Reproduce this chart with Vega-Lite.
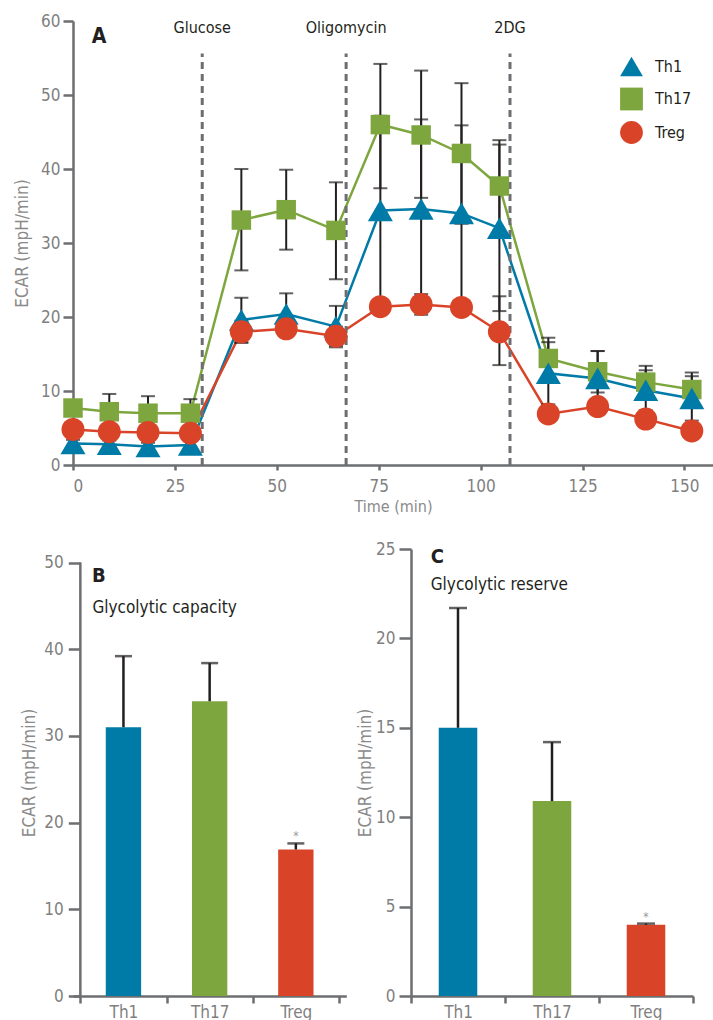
{
  "$schema": "https://vega.github.io/schema/vega-lite/v6.json",
  "padding": {"left": 13, "top": 12, "right": 0, "bottom": 0},
  "spacing": 26,
  "columns": 1,
  "resolve": {"legend": {"color": "independent", "shape": "independent"}},
  "config": {
    "font": "DejaVu Sans Condensed, DejaVu Sans, sans-serif",
    "view": {"stroke": null},
    "axis": {
      "labelFontSize": 17, "labelColor": "#7f7f7f",
      "titleFontSize": 17, "titleColor": "#8a8a8a", "titleFontWeight": "normal",
      "domainColor": "#6d6e71", "domainWidth": 2.5,
      "tickColor": "#6d6e71", "tickWidth": 2.5, "grid": false
    },
    "text": {"color": "#231F20"}
  },
  "datasets": {
    "ts": [
      {"cell": "Th17", "t": 0, "v": 7.7, "lo": 6.7, "hi": 8.7},
      {"cell": "Th17", "t": 8.9, "v": 7.2, "lo": 4.8, "hi": 9.6},
      {"cell": "Th17", "t": 18.4, "v": 7.0, "lo": 4.7, "hi": 9.3},
      {"cell": "Th17", "t": 28.8, "v": 7.0, "lo": 5.1, "hi": 8.9},
      {"cell": "Th17", "t": 41.3, "v": 33.1, "lo": 26.3, "hi": 40.0},
      {"cell": "Th17", "t": 52.3, "v": 34.5, "lo": 29.1, "hi": 39.9},
      {"cell": "Th17", "t": 64.5, "v": 31.7, "lo": 25.1, "hi": 38.2},
      {"cell": "Th17", "t": 75.4, "v": 46.0, "lo": 37.4, "hi": 54.2},
      {"cell": "Th17", "t": 85.4, "v": 44.6, "lo": 36.1, "hi": 53.3},
      {"cell": "Th17", "t": 95.3, "v": 42.1, "lo": 32.6, "hi": 51.6},
      {"cell": "Th17", "t": 104.6, "v": 37.7, "lo": 31.5, "hi": 43.9},
      {"cell": "Th17", "t": 116.6, "v": 14.4, "lo": 11.6, "hi": 17.2},
      {"cell": "Th17", "t": 128.7, "v": 12.6, "lo": 9.8, "hi": 15.4},
      {"cell": "Th17", "t": 140.5, "v": 11.2, "lo": 9.0, "hi": 13.4},
      {"cell": "Th17", "t": 151.8, "v": 10.2, "lo": 7.9, "hi": 12.5},
      {"cell": "Th1", "t": 0, "v": 2.9, "lo": 2.4, "hi": 3.4},
      {"cell": "Th1", "t": 8.9, "v": 2.8, "lo": 2.3, "hi": 3.3},
      {"cell": "Th1", "t": 18.4, "v": 2.5, "lo": 2.0, "hi": 3.0},
      {"cell": "Th1", "t": 28.8, "v": 2.7, "lo": 2.2, "hi": 3.2},
      {"cell": "Th1", "t": 41.3, "v": 19.6, "lo": 16.6, "hi": 22.6},
      {"cell": "Th1", "t": 52.3, "v": 20.4, "lo": 17.6, "hi": 23.2},
      {"cell": "Th1", "t": 64.5, "v": 18.7, "lo": 15.9, "hi": 21.5},
      {"cell": "Th1", "t": 75.4, "v": 34.4, "lo": 21.6, "hi": 47.2},
      {"cell": "Th1", "t": 85.4, "v": 34.6, "lo": 22.5, "hi": 46.7},
      {"cell": "Th1", "t": 95.3, "v": 34.0, "lo": 22.1, "hi": 45.9},
      {"cell": "Th1", "t": 104.6, "v": 32.0, "lo": 20.8, "hi": 43.3},
      {"cell": "Th1", "t": 116.6, "v": 12.4, "lo": 8.2, "hi": 16.6},
      {"cell": "Th1", "t": 128.7, "v": 11.7, "lo": 8.0, "hi": 15.4},
      {"cell": "Th1", "t": 140.5, "v": 10.1, "lo": 7.4, "hi": 12.8},
      {"cell": "Th1", "t": 151.8, "v": 9.0, "lo": 6.0, "hi": 12.0},
      {"cell": "Treg", "t": 0, "v": 4.8, "lo": 4.3, "hi": 5.3},
      {"cell": "Treg", "t": 8.9, "v": 4.5, "lo": 4.0, "hi": 5.0},
      {"cell": "Treg", "t": 18.4, "v": 4.4, "lo": 3.9, "hi": 4.9},
      {"cell": "Treg", "t": 28.8, "v": 4.3, "lo": 3.8, "hi": 4.8},
      {"cell": "Treg", "t": 41.3, "v": 18.0, "lo": 16.5, "hi": 19.5},
      {"cell": "Treg", "t": 52.3, "v": 18.4, "lo": 17.4, "hi": 19.4},
      {"cell": "Treg", "t": 64.5, "v": 17.4, "lo": 16.1, "hi": 18.7},
      {"cell": "Treg", "t": 75.4, "v": 21.4, "lo": 20.4, "hi": 22.4},
      {"cell": "Treg", "t": 85.4, "v": 21.7, "lo": 20.3, "hi": 23.1},
      {"cell": "Treg", "t": 95.3, "v": 21.3, "lo": 20.3, "hi": 22.3},
      {"cell": "Treg", "t": 104.6, "v": 18.0, "lo": 13.5, "hi": 22.8},
      {"cell": "Treg", "t": 116.6, "v": 6.9, "lo": 6.1, "hi": 7.7},
      {"cell": "Treg", "t": 128.7, "v": 7.9, "lo": 7.1, "hi": 8.7},
      {"cell": "Treg", "t": 140.5, "v": 6.2, "lo": 5.5, "hi": 6.9},
      {"cell": "Treg", "t": 151.8, "v": 4.6, "lo": 3.9, "hi": 5.3}
    ],
    "events": [
      {"label": "Glucose", "t": 31.7},
      {"label": "Oligomycin", "t": 67.0},
      {"label": "2DG", "t": 107.2}
    ],
    "cap": [
      {"cell": "Th1", "v": 31.0, "hi": 39.2, "sig": ""},
      {"cell": "Th17", "v": 34.0, "hi": 38.4, "sig": ""},
      {"cell": "Treg", "v": 16.9, "hi": 17.6, "sig": "*"}
    ],
    "res": [
      {"cell": "Th1", "v": 15.0, "hi": 21.7, "sig": ""},
      {"cell": "Th17", "v": 10.9, "hi": 14.2, "sig": ""},
      {"cell": "Treg", "v": 3.98, "hi": 4.05, "sig": "*"}
    ]
  },
  "concat": [
    {
      "width": 640,
      "height": 444,
      "layer": [
        {
          "data": {"name": "ts"},
          "mark": {"type": "line", "strokeWidth": 2.5},
          "encoding": {
            "x": {"field": "t", "type": "quantitative", "scale": {"domain": [0, 157], "nice": false, "zero": false},
                  "axis": {"values": [0, 25, 50, 75, 100, 125, 150], "title": "Time (min)", "titleFontSize": 16, "tickSize": 5, "labelPadding": 8, "titlePadding": 4}},
            "y": {"field": "v", "type": "quantitative", "scale": {"domain": [0, 60], "nice": false},
                  "axis": {"values": [0, 10, 20, 30, 40, 50, 60], "title": "ECAR (mpH/min)", "tickSize": 10, "labelPadding": 3, "titlePadding": 9}},
            "stroke": {"field": "cell", "type": "nominal", "scale": {"domain": ["Th1", "Th17", "Treg"], "range": ["#007ba7", "#7ea63f", "#d94428"]}, "legend": null}
          }
        },
        {
          "data": {"name": "events"},
          "mark": {"type": "rule", "strokeDash": [7, 5], "strokeWidth": 3, "color": "#6d6e71"},
          "encoding": {
            "x": {"field": "t", "type": "quantitative", "scale": {"domain": [0, 157], "nice": false, "zero": false}},
            "y": {"datum": 0, "scale": {"domain": [0, 60], "nice": false}},
            "y2": {"datum": 55.6}
          }
        },
        {
          "data": {"name": "events"},
          "mark": {"type": "text", "fontSize": 16, "baseline": "middle", "align": "center"},
          "encoding": {
            "x": {"field": "t", "type": "quantitative", "scale": {"domain": [0, 157], "nice": false, "zero": false}},
            "y": {"datum": 59, "scale": {"domain": [0, 60], "nice": false}},
            "text": {"field": "label"}
          }
        },
        {
          "data": {"name": "ts"},
          "mark": {"type": "errorbar", "ticks": {"size": 14}, "thickness": 2, "color": "#231F20"},
          "encoding": {
            "x": {"field": "t", "type": "quantitative", "scale": {"domain": [0, 157], "nice": false, "zero": false}},
            "y": {"field": "lo", "type": "quantitative", "scale": {"domain": [0, 60], "nice": false}, "title": "ECAR (mpH/min)"},
            "y2": {"field": "hi"}
          }
        },
        {
          "data": {"name": "ts"},
          "transform": [{"filter": "datum.cell === 'Th17'"}],
          "mark": {"type": "point", "filled": true, "opacity": 1, "size": 380},
          "encoding": {
            "x": {"field": "t", "type": "quantitative", "scale": {"domain": [0, 157], "nice": false, "zero": false}},
            "y": {"field": "v", "type": "quantitative", "scale": {"domain": [0, 60], "nice": false}},
            "color": {"field": "cell", "type": "nominal", "scale": {"domain": ["Th1", "Th17", "Treg"], "range": ["#007ba7", "#7ea63f", "#d94428"]},
                      "legend": {"title": null, "orient": "none", "legendX": 547, "legendY": 34, "labelFontSize": 16, "labelColor": "#231F20", "labelOffset": 12, "rowPadding": 10.5, "padding": 0, "symbolOpacity": 1, "symbolSize": 520, "symbolStrokeWidth": 0}},
            "shape": {"field": "cell", "type": "nominal", "scale": {"domain": ["Th1", "Th17", "Treg"], "range": ["triangle-up", "square", "circle"]}}
          }
        },
        {
          "data": {"name": "ts"},
          "transform": [{"filter": "datum.cell === 'Th1'"}],
          "mark": {"type": "point", "filled": true, "opacity": 1, "size": 625},
          "encoding": {
            "x": {"field": "t", "type": "quantitative", "scale": {"domain": [0, 157], "nice": false, "zero": false}},
            "y": {"field": "v", "type": "quantitative", "scale": {"domain": [0, 60], "nice": false}},
            "color": {"field": "cell", "type": "nominal"},
            "shape": {"field": "cell", "type": "nominal"}
          }
        },
        {
          "data": {"name": "ts"},
          "transform": [{"filter": "datum.cell === 'Treg'"}],
          "mark": {"type": "point", "filled": true, "opacity": 1, "size": 529},
          "encoding": {
            "x": {"field": "t", "type": "quantitative", "scale": {"domain": [0, 157], "nice": false, "zero": false}},
            "y": {"field": "v", "type": "quantitative", "scale": {"domain": [0, 60], "nice": false}},
            "color": {"field": "cell", "type": "nominal"},
            "shape": {"field": "cell", "type": "nominal"}
          }
        },
        {
          "data": {"values": [{}]},
          "mark": {"type": "text", "fontSize": 21, "fontWeight": "bold", "align": "left", "baseline": "middle"},
          "encoding": {
            "x": {"datum": 4.6, "scale": {"domain": [0, 157], "nice": false, "zero": false}},
            "y": {"datum": 57.8, "scale": {"domain": [0, 60], "nice": false}},
            "text": {"value": "A"}
          }
        }
      ]
    },
    {
      "spacing": 9,
      "hconcat": [
        {
          "width": 273.3,
          "height": 447,
          "encoding": {
            "x": {"field": "cell", "type": "nominal", "scale": {"domain": ["Th1", "Th17", "Treg"], "paddingInner": 0, "paddingOuter": 0.0853},
                  "axis": {"title": null, "labelAngle": 0, "tickBand": "extent", "tickSize": 7, "labelPadding": 1}}
          },
          "layer": [
            {
              "data": {"name": "cap"},
              "mark": {"type": "bar", "width": {"band": 0.41}},
              "encoding": {
                "y": {"field": "v", "type": "quantitative", "scale": {"domain": [0, 51.56], "nice": false},
                      "axis": {"values": [0, 10, 20, 30, 40, 50], "title": "ECAR (mpH/min)", "domain": false, "offset": -7.3, "tickSize": 12, "labelPadding": 5, "titlePadding": 5}},
                "fill": {"field": "cell", "type": "nominal", "scale": {"domain": ["Th1", "Th17", "Treg"], "range": ["#007ba7", "#7ea63f", "#d94428"]}, "legend": null}
              }
            },
            {
              "data": {"name": "cap"},
              "mark": {"type": "rule", "strokeWidth": 2.5, "color": "#231F20"},
              "encoding": {"y": {"field": "v", "type": "quantitative"}, "y2": {"field": "hi"}}
            },
            {
              "data": {"name": "cap"},
              "mark": {"type": "tick", "orient": "horizontal", "size": 17, "thickness": 2.5, "color": "#231F20"},
              "encoding": {"y": {"field": "hi", "type": "quantitative"}}
            },
            {
              "data": {"name": "cap"},
              "mark": {"type": "text", "fontSize": 12, "color": "#9a9a9a", "baseline": "bottom"},
              "encoding": {"y": {"field": "hi", "type": "quantitative"}, "text": {"field": "sig"}}
            },
            {
              "data": {"values": [{}]},
              "mark": {"type": "rule", "strokeWidth": 2.5, "color": "#6d6e71"},
              "encoding": {"x": {"datum": "Th1", "bandPosition": 0}, "y": {"datum": 0}, "y2": {"datum": 50}}
            },
            {
              "data": {"values": [{}]},
              "mark": {"type": "text", "fontSize": 20, "fontWeight": "bold", "align": "left", "baseline": "middle"},
              "encoding": {"x": {"datum": "Th1", "bandPosition": 0.135}, "y": {"datum": 48.4}, "text": {"value": "B"}}
            },
            {
              "data": {"values": [{}]},
              "mark": {"type": "text", "fontSize": 17, "align": "left", "baseline": "middle"},
              "encoding": {"x": {"datum": "Th1", "bandPosition": 0.14}, "y": {"datum": 44.8}, "text": {"value": "Glycolytic capacity"}}
            }
          ]
        },
        {
          "width": 282,
          "height": 447,
          "encoding": {
            "x": {"field": "cell", "type": "nominal", "scale": {"domain": ["Th1", "Th17", "Treg"], "paddingInner": 0, "paddingOuter": 0},
                  "axis": {"title": null, "labelAngle": 0, "tickBand": "extent", "tickSize": 7, "labelPadding": 1}}
          },
          "layer": [
            {
              "data": {"name": "res"},
              "mark": {"type": "bar", "width": {"band": 0.41}},
              "encoding": {
                "y": {"field": "v", "type": "quantitative", "scale": {"domain": [0, 25], "nice": false},
                      "axis": {"values": [0, 5, 10, 15, 20, 25], "title": "ECAR (mpH/min)", "tickSize": 12, "labelPadding": 4, "titlePadding": 1}},
                "fill": {"field": "cell", "type": "nominal", "scale": {"domain": ["Th1", "Th17", "Treg"], "range": ["#007ba7", "#7ea63f", "#d94428"]}, "legend": null}
              }
            },
            {
              "data": {"name": "res"},
              "mark": {"type": "rule", "strokeWidth": 2.5, "color": "#231F20"},
              "encoding": {"y": {"field": "v", "type": "quantitative"}, "y2": {"field": "hi"}}
            },
            {
              "data": {"name": "res"},
              "mark": {"type": "tick", "orient": "horizontal", "size": 18, "thickness": 2.5, "color": "#231F20"},
              "encoding": {"y": {"field": "hi", "type": "quantitative"}}
            },
            {
              "data": {"name": "res"},
              "mark": {"type": "text", "fontSize": 12, "color": "#9a9a9a", "baseline": "bottom"},
              "encoding": {"y": {"field": "hi", "type": "quantitative"}, "text": {"field": "sig"}}
            },
            {
              "data": {"values": [{}]},
              "mark": {"type": "text", "fontSize": 20, "fontWeight": "bold", "align": "left", "baseline": "middle"},
              "encoding": {"x": {"datum": "Th1", "bandPosition": 0.21}, "y": {"datum": 24.57}, "text": {"value": "C"}}
            },
            {
              "data": {"values": [{}]},
              "mark": {"type": "text", "fontSize": 17, "align": "left", "baseline": "middle"},
              "encoding": {"x": {"datum": "Th1", "bandPosition": 0.21}, "y": {"datum": 22.99}, "text": {"value": "Glycolytic reserve"}}
            }
          ]
        }
      ]
    }
  ]
}
